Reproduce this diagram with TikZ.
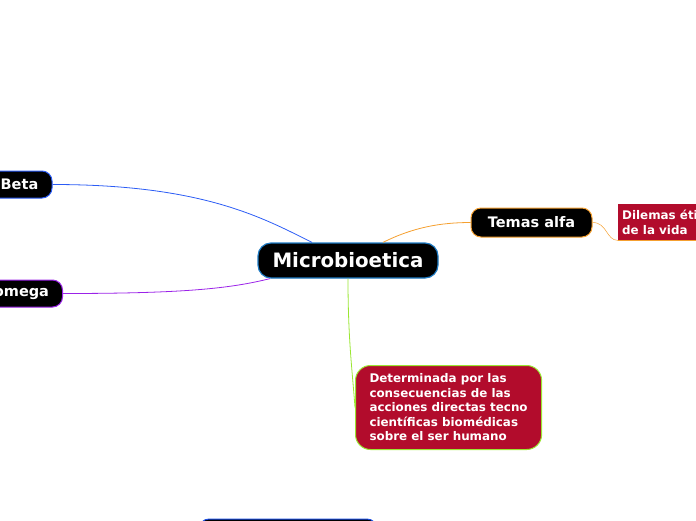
\documentclass[tikz,border=0pt]{standalone}
\usepackage{fontspec}
\setmainfont{DejaVu Sans}
\usetikzlibrary{positioning}

\definecolor{cCentral}{HTML}{1E7BC4}
\definecolor{cBlue}{HTML}{2B5CF5}
\definecolor{cBlueB}{HTML}{1A4EE6}
\definecolor{cPurple}{HTML}{9B22E8}
\definecolor{cOrange}{HTML}{F5A030}
\definecolor{cGreen}{HTML}{9AE632}
\definecolor{cRed}{HTML}{B20C2C}

\begin{document}
\begin{tikzpicture}[x=1pt, y=-1pt,
	central/.style={draw=cCentral, line width=1.2pt, fill=black, text=white, rounded corners=13pt, minimum width=180pt, minimum height=35pt, font=\fontsize{19.8}{22}\selectfont\bfseries},
	topic/.style={draw, line width=1pt, fill=black, text=white, rounded corners=10pt, minimum height=27pt, font=\fontsize{14.5}{16}\selectfont\bfseries},
	sub/.style={fill=cRed, text=white, align=left, font=\fontsize{11.9}{14.5}\selectfont\bfseries}]
	\clip (0,0) rectangle (696,520);
	\node[central] (micro) at (348,260.5) {Microbioetica};
	\node[topic, draw=cBlue, minimum width=65pt] (beta) at (19.5,184.5) {Beta};
	\node[topic, draw=cPurple, minimum width=82pt, anchor=east] (omega) at (63,293.5) {omega};
	\node[topic, draw=cOrange, minimum width=121pt, minimum height=29pt] (alfa) at (531.5,222.5) {Temas alfa};
	\node[sub, anchor=north west, minimum height=36pt, inner xsep=4pt] (dilemas) at (618,204) {Dilemas éticos\\de la vida};
	\node[sub, draw=cGreen, line width=1pt, rounded corners=15pt, anchor=north west, minimum width=186pt, minimum height=84pt, inner xsep=14pt] (determ) at (355,365) {Determinada por las\\consecuencias de las\\acciones directas tecno\\científicas biomédicas\\sobre el ser humano};
	\node[topic, draw=cBlueB, minimum width=178pt, anchor=north] (bottom) at (288,518.5) {};
	\draw[cOrange, line width=1pt] (dilemas.south west) -- (dilemas.south east);
	% connectors
	\draw[cBlue, line width=0.8pt] ([xshift=-36pt]micro.north) .. controls +(-50,-25) and +(150,0) .. (beta.east);
	\draw[cPurple, line width=0.8pt] ([xshift=-78pt]micro.south) .. controls +(-40,10) and +(120,0) .. (omega.east);
	\draw[cOrange, line width=0.8pt] ([xshift=35pt]micro.north) .. controls +(30,-15) and +(-30,0) .. (alfa.west);
	\draw[cOrange, line width=0.5pt] (alfa.east) .. controls +(15,0) and +(-12,0) .. (dilemas.south west);
	\draw[cGreen, line width=0.8pt] (micro.south) .. controls +(0,60) and +(-3,-40) .. (determ.west);
\end{tikzpicture}
\end{document}
